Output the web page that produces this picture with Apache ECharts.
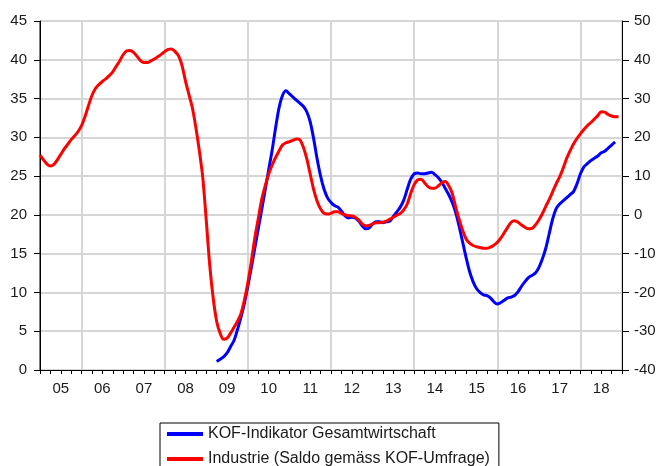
<!DOCTYPE html>
<html>
<head>
<meta charset="utf-8">
<script src="https://cdn.jsdelivr.net/npm/echarts@6/dist/echarts.min.js"></script>
<style>
  html, body { margin: 0; padding: 0; background: #fff; }
  #chart { width: 660px; height: 466px; }
</style>
</head>
<body>
<div id="chart"></div>
<script>
// Jahreslabels der x-Achse (2005 - 2018)
const years = ['05', '06', '07', '08', '09', '10', '11', '12', '13', '14', '15', '16', '17', '18'];

// Industrie (Saldo gemäss KOF-Umfrage), monatlich ab Jan 2005 - rechte Achse
const industrie = [
    15.4, 14.2, 13.1, 12.6, 13.0, 14.2, 15.6, 17.0, 18.2, 19.4, 20.4, 21.5,
    23.0, 25.4, 28.2, 30.8, 32.6, 33.6, 34.4, 35.1, 35.9, 36.9, 38.3, 39.7,
    41.3, 42.3, 42.4, 41.9, 40.9, 39.8, 39.3, 39.3, 39.7, 40.2, 40.8, 41.4,
    42.1, 42.7, 42.8, 42.1, 41.0, 38.5, 34.5, 31.0, 27.5, 22.5, 16.5, 9.5,
    -1.5, -13.0, -21.5, -27.5, -30.5, -32.1, -31.8, -30.5, -29.0, -27.5, -25.5, -22.0,
    -17.5, -12.0, -6.0, -1.0, 4.0, 7.5, 10.5, 12.8, 14.8, 16.5, 18.0, 18.6,
    18.9, 19.2, 19.6, 19.4, 17.5, 14.5, 10.5, 6.5, 3.5, 1.5, 0.4, 0.2,
    0.4, 0.8, 0.8, 0.4, 0.0, -0.2, -0.3, -0.6, -1.3, -2.3, -2.8, -2.7,
    -2.3, -2.0, -2.0, -1.9, -1.6, -1.1, -0.6, -0.1, 0.4, 1.3, 2.8, 5.5,
    7.8, 9.0, 9.2, 8.3, 7.3, 6.9, 6.9, 7.5, 8.3, 8.6, 7.5, 5.5,
    2.0, -1.2, -4.0, -6.2, -7.3, -7.9, -8.2, -8.4, -8.6, -8.6, -8.3, -7.8,
    -7.1, -6.0, -4.6, -3.2, -1.9, -1.5, -1.9, -2.6, -3.2, -3.6, -3.5, -2.6,
    -1.3, 0.3, 2.2, 4.0, 6.0, 8.0, 9.8, 12.0, 14.5, 16.5, 18.3, 19.7,
    20.9, 22.0, 23.0, 23.8, 24.7, 25.6, 26.6, 26.5, 25.9, 25.5, 25.3, 25.3
];

// KOF-Indikator Gesamtwirtschaft, monatlich ab Apr 2009 - linke Achse
const kofStart = 51; // Monate seit Jan 2005
const kofIndikator = [
    1.1, 1.4, 1.7, 2.2, 3.0, 3.8, 5.2, 6.8, 8.6,
    10.8, 13.2, 15.7, 18.2, 20.7, 23.2, 25.8, 28.3, 31.2, 33.8, 35.4, 36.0,
    35.6, 35.2, 34.8, 34.4, 34.0, 33.3, 32.0, 29.8, 27.2, 25.0, 23.3, 22.2,
    21.6, 21.2, 21.0, 20.5, 19.9, 19.6, 19.7, 19.6, 19.2, 18.6, 18.2, 18.3,
    18.8, 19.1, 19.1, 19.0, 19.1, 19.2, 19.8, 20.4, 21.0, 21.9, 23.3, 24.6,
    25.3, 25.4, 25.3, 25.3, 25.4, 25.5, 25.2, 24.8, 24.2, 23.4, 22.6, 21.6,
    20.3, 18.5, 16.5, 14.5, 12.7, 11.4, 10.5, 10.0, 9.7, 9.6, 9.3, 8.8,
    8.5, 8.7, 9.0, 9.3, 9.4, 9.6, 10.1, 10.8, 11.4, 11.9, 12.2, 12.5,
    13.2, 14.3, 15.7, 17.6, 19.5, 20.8, 21.4, 21.8, 22.2, 22.6, 23.0, 24.0,
    25.3, 26.2, 26.6, 27.0, 27.3, 27.6, 28.0, 28.2, 28.6, 29.0, 29.4
];

const FONT = 'Liberation Sans, Arial, sans-serif';
const TXT = '#1a1a1a';
const GRIDC = '#d6d6d6';

const chart = echarts.init(document.getElementById('chart'), null, { renderer: 'canvas' });

chart.setOption({
    animation: false,
    backgroundColor: '#fff',
    textStyle: { fontFamily: FONT },
    grid: { left: 40, right: 38, top: 21, bottom: 96, show: true, borderColor: '#000', borderWidth: 1, backgroundColor: 'transparent' },
    legend: {
        orient: 'vertical', left: 160, top: 423, height: 80,
        padding: [3, 9, 14, 7], itemGap: 9,
        itemWidth: 36, itemHeight: 4, icon: 'rect',
        borderColor: '#000', borderWidth: 1,
        textStyle: { fontSize: 16, color: TXT, fontFamily: FONT },
        data: ['KOF-Indikator Gesamtwirtschaft', 'Industrie (Saldo gemäss KOF-Umfrage)']
    },
    xAxis: [
        {   // Monatsachse mit Quartalsticks
            type: 'value', min: 0, max: 168, interval: 3,
            axisLine: { lineStyle: { color: '#000', width: 1 } },
            axisTick: { length: 4, lineStyle: { color: '#000' } },
            axisLabel: { show: false },
            splitLine: { show: false }
        },
        {   // Jahreslabels, Jahresticks und Gitter alle 2 Jahre
            type: 'category', data: years, boundaryGap: true, position: 'bottom',
            axisLine: { show: false },
            axisTick: { length: 7, interval: 0, lineStyle: { color: '#000' } },
            axisLabel: { fontSize: 15, color: TXT, margin: 11, interval: 0 },
            splitLine: { show: true, interval: (i) => i % 2 === 1, lineStyle: { color: GRIDC, width: 2 } }
        }
    ],
    yAxis: [
        {
            type: 'value', position: 'left', min: 0, max: 45, interval: 5,
            axisLine: { show: true, lineStyle: { color: '#000' } },
            axisTick: { show: true, length: 6, lineStyle: { color: '#000' } },
            axisLabel: { fontSize: 15, color: TXT, margin: 13 },
            splitLine: { show: true, lineStyle: { color: GRIDC, width: 2 } }
        },
        {
            type: 'value', position: 'right', min: -40, max: 50, interval: 10,
            axisLine: { show: true, lineStyle: { color: '#000' } },
            axisTick: { show: true, length: 7, lineStyle: { color: '#000' } },
            axisLabel: { fontSize: 15, color: TXT, margin: 12 },
            splitLine: { show: false }
        }
    ],
    series: [
        {
            name: 'KOF-Indikator Gesamtwirtschaft', type: 'line',
            xAxisIndex: 0, yAxisIndex: 0, showSymbol: false, smooth: 0.3,
            lineStyle: { color: '#0000ff', width: 3 }, itemStyle: { color: '#0000ff' },
            data: kofIndikator.map((v, i) => [kofStart + i, v])
        },
        {
            name: 'Industrie (Saldo gemäss KOF-Umfrage)', type: 'line',
            xAxisIndex: 0, yAxisIndex: 1, showSymbol: false, smooth: 0.3,
            lineStyle: { color: '#ff0000', width: 3 }, itemStyle: { color: '#ff0000' },
            data: industrie.map((v, i) => [i, v])
        }
    ]
});
</script>
</body>
</html>
